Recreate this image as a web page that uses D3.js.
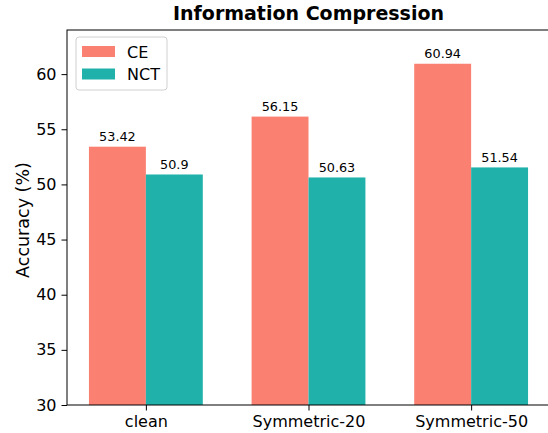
<!DOCTYPE html>
<html>
<head>
<meta charset="utf-8">
<script src="https://cdn.jsdelivr.net/npm/d3@7"></script>
<style>
  body { margin: 0; background: #fff; }
  svg { font-family: 'DejaVu Sans', sans-serif; }
  .tick text { fill: #000; }
</style>
</head>
<body>
<svg width="548" height="433"></svg>
<script>
const categories = ['clean', 'Symmetric-20', 'Symmetric-50'];
const seriesNames = ['CE', 'NCT'];
const ceValues = [53.42, 56.15, 60.94];
const nctValues = [50.9, 50.63, 51.54];
const yTicks = [30, 35, 40, 45, 50, 55, 60];
const colors = ['#FA8072', '#20B2AA'];

const svg = d3.select('svg');
const margin = { top: 30, left: 67 };
const innerWidth = 483;
const innerHeight = 375;
const barWidth = 0.35;

const data = categories.map((c, i) => ({ cat: i, values: [ceValues[i], nctValues[i]] }));

const xScale = d3.scaleLinear()
  .domain([-0.485, 2.485])
  .range([0, innerWidth]);

const yScale = d3.scaleLinear()
  .domain([30, 64])
  .range([innerHeight, 0]);

const g = svg.append('g')
  .attr('transform', `translate(${margin.left},${margin.top})`);

// bars + value labels
data.forEach(d => {
  d.values.forEach((v, s) => {
    const x0 = xScale(d.cat + (s === 0 ? -barWidth : 0));
    const x1 = xScale(d.cat + (s === 0 ? 0 : barWidth));
    g.append('rect')
      .attr('x', x0)
      .attr('y', yScale(v))
      .attr('width', x1 - x0)
      .attr('height', yScale(30) - yScale(v))
      .attr('fill', colors[s]);
    g.append('text')
      .attr('x', (x0 + x1) / 2)
      .attr('y', yScale(v) - 5.5)
      .attr('text-anchor', 'middle')
      .attr('font-size', '12.8px')
      .attr('fill', '#000')
      .text(v);
  });
});

// axes
const yAxis = d3.axisLeft(yScale)
  .tickValues(yTicks)
  .tickSize(5.5)
  .tickPadding(5);
const yAxisG = g.append('g').call(yAxis);
yAxisG.selectAll('text').attr('font-size', '16px').attr('font-family', 'DejaVu Sans');
yAxisG.select('.domain').remove();

const xAxis = d3.axisBottom(xScale)
  .tickValues([0, 1, 2])
  .tickFormat(i => categories[i])
  .tickSize(5.5)
  .tickPadding(5);
const xAxisG = g.append('g')
  .attr('transform', `translate(0,${innerHeight})`)
  .call(xAxis);
xAxisG.selectAll('text').attr('font-size', '16px').attr('font-family', 'DejaVu Sans');
xAxisG.select('.domain').remove();

// frame
g.append('rect')
  .attr('width', innerWidth)
  .attr('height', innerHeight)
  .attr('fill', 'none')
  .attr('stroke', '#000')
  .attr('stroke-width', 1);

// axis label
g.append('text')
  .attr('transform', 'rotate(-90)')
  .attr('x', -190)
  .attr('y', -38)
  .attr('text-anchor', 'middle')
  .attr('font-size', '17.5px')
  .text('Accuracy (%)');

// title
svg.append('text')
  .attr('x', margin.left + innerWidth / 2)
  .attr('y', 20)
  .attr('text-anchor', 'middle')
  .attr('font-size', '19px')
  .attr('font-weight', 'bold')
  .text('Information Compression');

// legend
const legend = svg.append('g').attr('transform', 'translate(76,37)');
legend.append('rect')
  .attr('width', 91)
  .attr('height', 53)
  .attr('rx', 3)
  .attr('fill', '#fff')
  .attr('fill-opacity', 0.8)
  .attr('stroke', '#d0d0d0');
seriesNames.forEach((name, i) => {
  legend.append('rect')
    .attr('x', 6)
    .attr('y', 9 + i * 22.5)
    .attr('width', 33)
    .attr('height', 11)
    .attr('fill', colors[i]);
  legend.append('text')
    .attr('x', 51)
    .attr('y', 20.5 + i * 22.5)
    .attr('font-size', '16px')
    .text(name);
});
</script>
</body>
</html>
